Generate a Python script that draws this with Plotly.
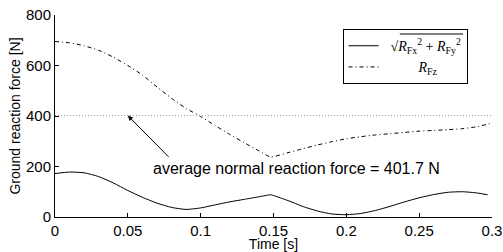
import plotly.graph_objects as go

t_fxy = [0, 0.01, 0.02, 0.03, 0.04, 0.05, 0.06, 0.07, 0.08, 0.09, 0.1, 0.11, 0.12, 0.13, 0.14, 0.148,
         0.15, 0.16, 0.17, 0.18, 0.19, 0.2, 0.21, 0.22, 0.23, 0.24, 0.25, 0.26, 0.27, 0.28, 0.29, 0.297]
r_fxy = [172, 178, 175, 160, 135, 105, 78, 55, 38, 30, 36, 48, 60, 70, 80, 88,
         85, 65, 42, 24, 12, 9, 14, 26, 42, 60, 76, 89, 98, 100, 95, 88]

t_fz = [0, 0.01, 0.02, 0.03, 0.04, 0.05, 0.06, 0.07, 0.08, 0.09, 0.1, 0.11, 0.12, 0.13, 0.14, 0.148,
        0.16, 0.17, 0.18, 0.19, 0.2, 0.21, 0.22, 0.23, 0.24, 0.25, 0.26, 0.27, 0.28, 0.29, 0.3]
r_fz = [695, 690, 678, 660, 633, 600, 562, 515, 470, 430, 398, 362, 327, 294, 262, 238,
        255, 270, 285, 298, 310, 318, 325, 330, 335, 340, 343, 346, 350, 358, 372]

avg_force = 401.7
x_range = [0, 0.3]
y_range = [0, 800]
x_ticks = [0, 0.05, 0.1, 0.15, 0.2, 0.25, 0.3]
x_ticktext = ["0", "0.05", "0.1", "0.15", "0.2", "0.25", "0.3"]
y_ticks = [0, 200, 400, 600, 800]

fig = go.Figure()
fig.add_trace(go.Scatter(
    x=t_fxy, y=r_fxy, mode="lines", line=dict(color="black", width=1, shape="spline", smoothing=0.6),
    name="  √<i>R</i><sub>Fx</sub><sup>2</sup> + <i>R</i><sub>Fy</sub><sup>2</sup>"))
fig.add_trace(go.Scatter(
    x=t_fz, y=r_fz, mode="lines", line=dict(color="black", width=1, dash="4px,3px,1px,3px", shape="spline", smoothing=0.6),
    name="          <i>R</i><sub>Fz</sub>"))
fig.add_trace(go.Scatter(
    x=x_range, y=[avg_force, avg_force], mode="lines", showlegend=False,
    line=dict(color="#999999", width=1, dash="1px,2px")))

fig.add_annotation(
    x=0.05, y=avg_force, xref="x", yref="y",
    ax=0.079, ay=232, axref="x", ayref="y",
    text="", showarrow=True, arrowhead=2, arrowsize=1, arrowwidth=1, arrowcolor="black")
fig.add_annotation(
    x=0.0659, y=194, xref="x", yref="y", yanchor="middle",
    text="average normal reaction force = 401.7 N", showarrow=False,
    xanchor="left", font=dict(family="Liberation Sans, Arial", size=16, color="black"))

# overline of the square root in the legend label
fig.add_shape(type="line", xref="paper", yref="paper", layer="above",
              x0=0.789, x1=0.934, y0=0.906, y1=0.906, line=dict(color="black", width=1))

fig.update_layout(
    width=503, height=252,
    margin=dict(l=55, r=11, t=15, b=35),
    plot_bgcolor="white", paper_bgcolor="white",
    font=dict(family="Liberation Sans, Arial", size=15, color="black"),
    showlegend=True,
    legend=dict(
        x=0.658, y=0.93, xanchor="left", yanchor="top",
        bordercolor="black", borderwidth=1, bgcolor="rgba(0,0,0,0)",
        font=dict(family="Liberation Serif, Times New Roman", size=14, color="black"),
        tracegroupgap=0, itemwidth=30),
)

fig.update_xaxes(range=x_range, tickvals=x_ticks, ticktext=x_ticktext,
                 showline=True, linecolor="black", linewidth=1, ticks="inside", ticklen=4,
                 tickcolor="black", showgrid=False, zeroline=False, automargin=False,
                 title=dict(text="Time [s]", font=dict(size=14), standoff=0))
fig.update_yaxes(range=y_range, tickvals=y_ticks,
                 showline=True, linecolor="black", linewidth=1, ticks="inside", ticklen=4,
                 tickcolor="black", showgrid=False, zeroline=False, automargin=False,
                 title=dict(text="Ground reaction force [N]", font=dict(size=14), standoff=2))

fig.write_html("out.html", config={"displayModeBar": False},
               post_script="document.body.style.margin='0';")
